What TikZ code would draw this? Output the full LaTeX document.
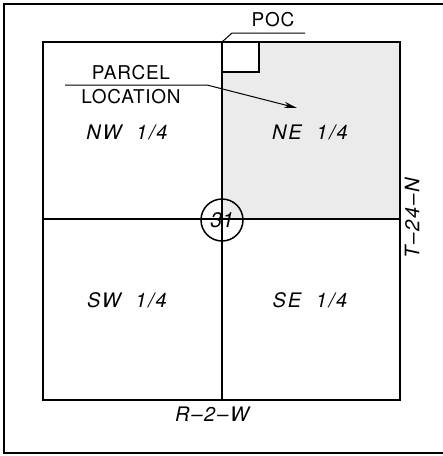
\documentclass[tikz,border=0pt]{standalone}
\usepackage{fontspec}
\usetikzlibrary{arrows.meta}
\setmainfont{TeX Gyre Heros}
\begin{document}
\begin{tikzpicture}[x=1pt, y=-1pt, line width=1.5pt, >={Stealth[length=13pt, width=6pt]},
    lbl/.style={font=\fontsize{19}{20}\selectfont\addfontfeature{LetterSpace=4}, inner sep=1pt},
    qlbl/.style={lbl, font=\fontsize{20}{22}\selectfont\itshape\addfontfeature{LetterSpace=9}}]
    \useasboundingbox (0,0) rectangle (443,456);
    % Outer frame
    \draw (443,4) -- (4,4) -- (4,453) -- (443,453);
    % Parcel (NE quarter)
    \fill[gray!16] (222,42) rectangle (400,219);
    \fill[white] (222,42) rectangle (259,72);
    % Section and quarter lines
    \draw (43,42) rectangle (400,400);
    \draw (222,42) -- (222,400);
    \draw (43,219) -- (400,219);
    \draw (222,72) -| (259,42);
    \node[circle, draw, minimum size=42pt, inner sep=0pt, font=\fontsize{21}{22}\selectfont\itshape] (sec) at (222,220) {31};
    % Quarter labels
    \node[qlbl] (nw) at (127,132) {NW\ \ 1/4};
    \node[qlbl] (ne) at (310,132) {NE\ \ 1/4};
    \node[qlbl] (sw) at (127,300) {SW\ \ 1/4};
    \node[qlbl] (se) at (310,300) {SE\ \ 1/4};
    % Township and range
    \node[qlbl, rotate=90] (twp) at (412,218) {T--24--N};
    \node[qlbl] (rng) at (212,414) {R--2--W};
    % Point of commencement
    \node[lbl] (poc) at (273,20) {POC};
    \coordinate (corner) at (222,42);
    \coordinate (pocA) at (232,33);
    \coordinate (pocB) at (305,33);
    \draw[line width=1pt] (corner) -- (pocA) -- (pocB);
    % Parcel location leader
    \node[lbl] (parcel) at (131,73) {PARCEL};
    \node[lbl] (loc) at (131,97) {LOCATION};
    \coordinate (ulA) at (65,85);
    \coordinate (ulB) at (207,85);
    \coordinate (tip) at (297,108);
    \draw[->, line width=1pt] (ulA) -- (ulB) -- (tip);
\end{tikzpicture}
\end{document}
